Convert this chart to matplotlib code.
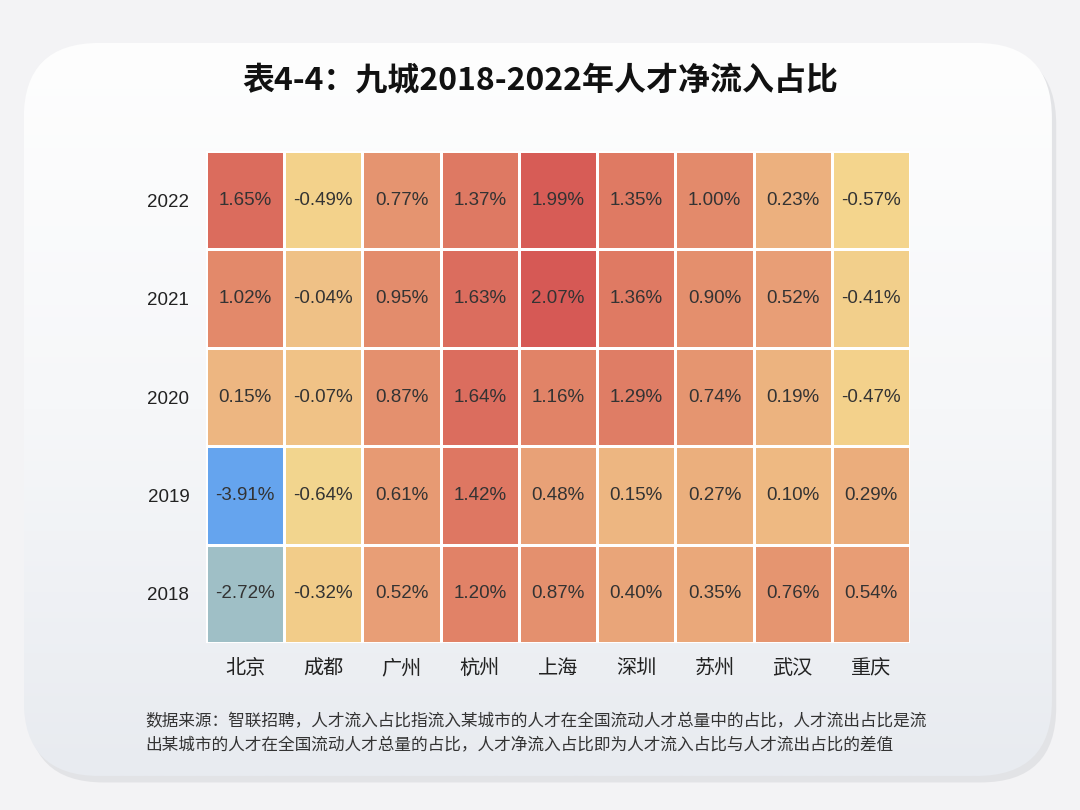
import numpy as np
import matplotlib
matplotlib.use("Agg")
import matplotlib.pyplot as plt
from matplotlib.colors import LinearSegmentedColormap
from matplotlib.patches import FancyBboxPatch

plt.rcParams['font.family'] = ['Noto Sans CJK SC', 'DejaVu Sans']

cities = ['北京', '成都', '广州', '杭州', '上海', '深圳', '苏州', '武汉', '重庆']
years = ['2022', '2021', '2020', '2019', '2018']
v2022 = [1.65, -0.49, 0.77, 1.37, 1.99, 1.35, 1.00, 0.23, -0.57]
v2021 = [1.02, -0.04, 0.95, 1.63, 2.07, 1.36, 0.90, 0.52, -0.41]
v2020 = [0.15, -0.07, 0.87, 1.64, 1.16, 1.29, 0.74, 0.19, -0.47]
v2019 = [-3.91, -0.64, 0.61, 1.42, 0.48, 0.15, 0.27, 0.10, 0.29]
v2018 = [-2.72, -0.32, 0.52, 1.20, 0.87, 0.40, 0.35, 0.76, 0.54]

data = np.array([v2022, v2021, v2020, v2019, v2018])
vmin, vmax = data.min(), data.max()

# colour anchors
anchors = [(-3.91, '#65a4ee'), (-2.72, '#a0bfc5'), (-0.6, '#f4d68d'),
           (0.0, '#efc085'), (0.5, '#e89f76'), (1.0, '#e38b6b'), (2.07, '#d65955')]
cmap = LinearSegmentedColormap.from_list(
    'cw', [((v - vmin) / (vmax - vmin), c) for v, c in anchors])

fig = plt.figure(figsize=(10.8, 8.1), dpi=100)
fig.patch.set_facecolor('#f3f3f5')

# card background with soft vertical gradient
bg = fig.add_axes([0, 0, 1, 1], zorder=-5)
bg.set_xlim(0, 1)
bg.set_ylim(0, 1)
bg.axis('off')
shadow = FancyBboxPatch((0.026, 0.034), 0.952, 0.905,
                        boxstyle='round,pad=0,rounding_size=0.07',
                        facecolor='#d8d9dc', edgecolor='none', alpha=0.6,
                        mutation_aspect=1.33, zorder=0)
bg.add_patch(shadow)
card = FancyBboxPatch((0.022, 0.042), 0.952, 0.905,
                      boxstyle='round,pad=0,rounding_size=0.07',
                      facecolor='none', edgecolor='none', mutation_aspect=1.33)
bg.add_patch(card)
grad_cmap = LinearSegmentedColormap.from_list('g', ['#e8ebf0', '#f6f7f9', '#fefefe'])
img = bg.imshow(np.linspace(0, 1, 256).reshape(-1, 1), cmap=grad_cmap,
                extent=[0.022, 0.974, 0.042, 0.947], origin='lower', aspect='auto',
                zorder=2)
img.set_clip_path(card)

ax = fig.add_axes([206/1080, 1 - 643/810, 704/1080, 492/810])
ax.set_zorder(2)
ax.pcolormesh(data, cmap=cmap, vmin=vmin, vmax=vmax,
              edgecolors='white', linewidth=1.0)
ax.invert_yaxis()
ax.set_xticks(np.arange(len(cities)) + 0.5)
ax.set_xticklabels(cities, fontsize=14.5, color='#222222')
ax.set_yticks(np.arange(len(years)) + 0.5)
ax.set_yticklabels(years, fontsize=13.5, color='#222222', family='Liberation Sans')
ax.tick_params(length=0, pad=11)
ax.tick_params(axis='y', pad=12)
for s in ax.spines.values():
    s.set_visible(False)

for i in range(len(years)):
    for j in range(len(cities)):
        ax.text(j + 0.5, i + 0.5, f'{data[i, j]:.2f}%', ha='center', va='center',
                fontsize=13.5, color='#333333', family='Liberation Sans')

fig.text(0.5, 0.901, '表4-4：九城2018-2022年人才净流入占比', ha='center', va='center',
         fontsize=23, fontweight='heavy', color='#111111')

fig.text(145/1080, 1 - 722/810,
         '数据来源：智联招聘，人才流入占比指流入某城市的人才在全国流动人才总量中的占比，人才流出占比是流',
         ha='left', va='center', fontsize=12, color='#333333')
fig.text(145/1080, 1 - 746/810,
         '出某城市的人才在全国流动人才总量的占比，人才净流入占比即为人才流入占比与人才流出占比的差值',
         ha='left', va='center', fontsize=12, color='#333333')

fig.savefig('out.png', dpi=100, facecolor=fig.get_facecolor())
